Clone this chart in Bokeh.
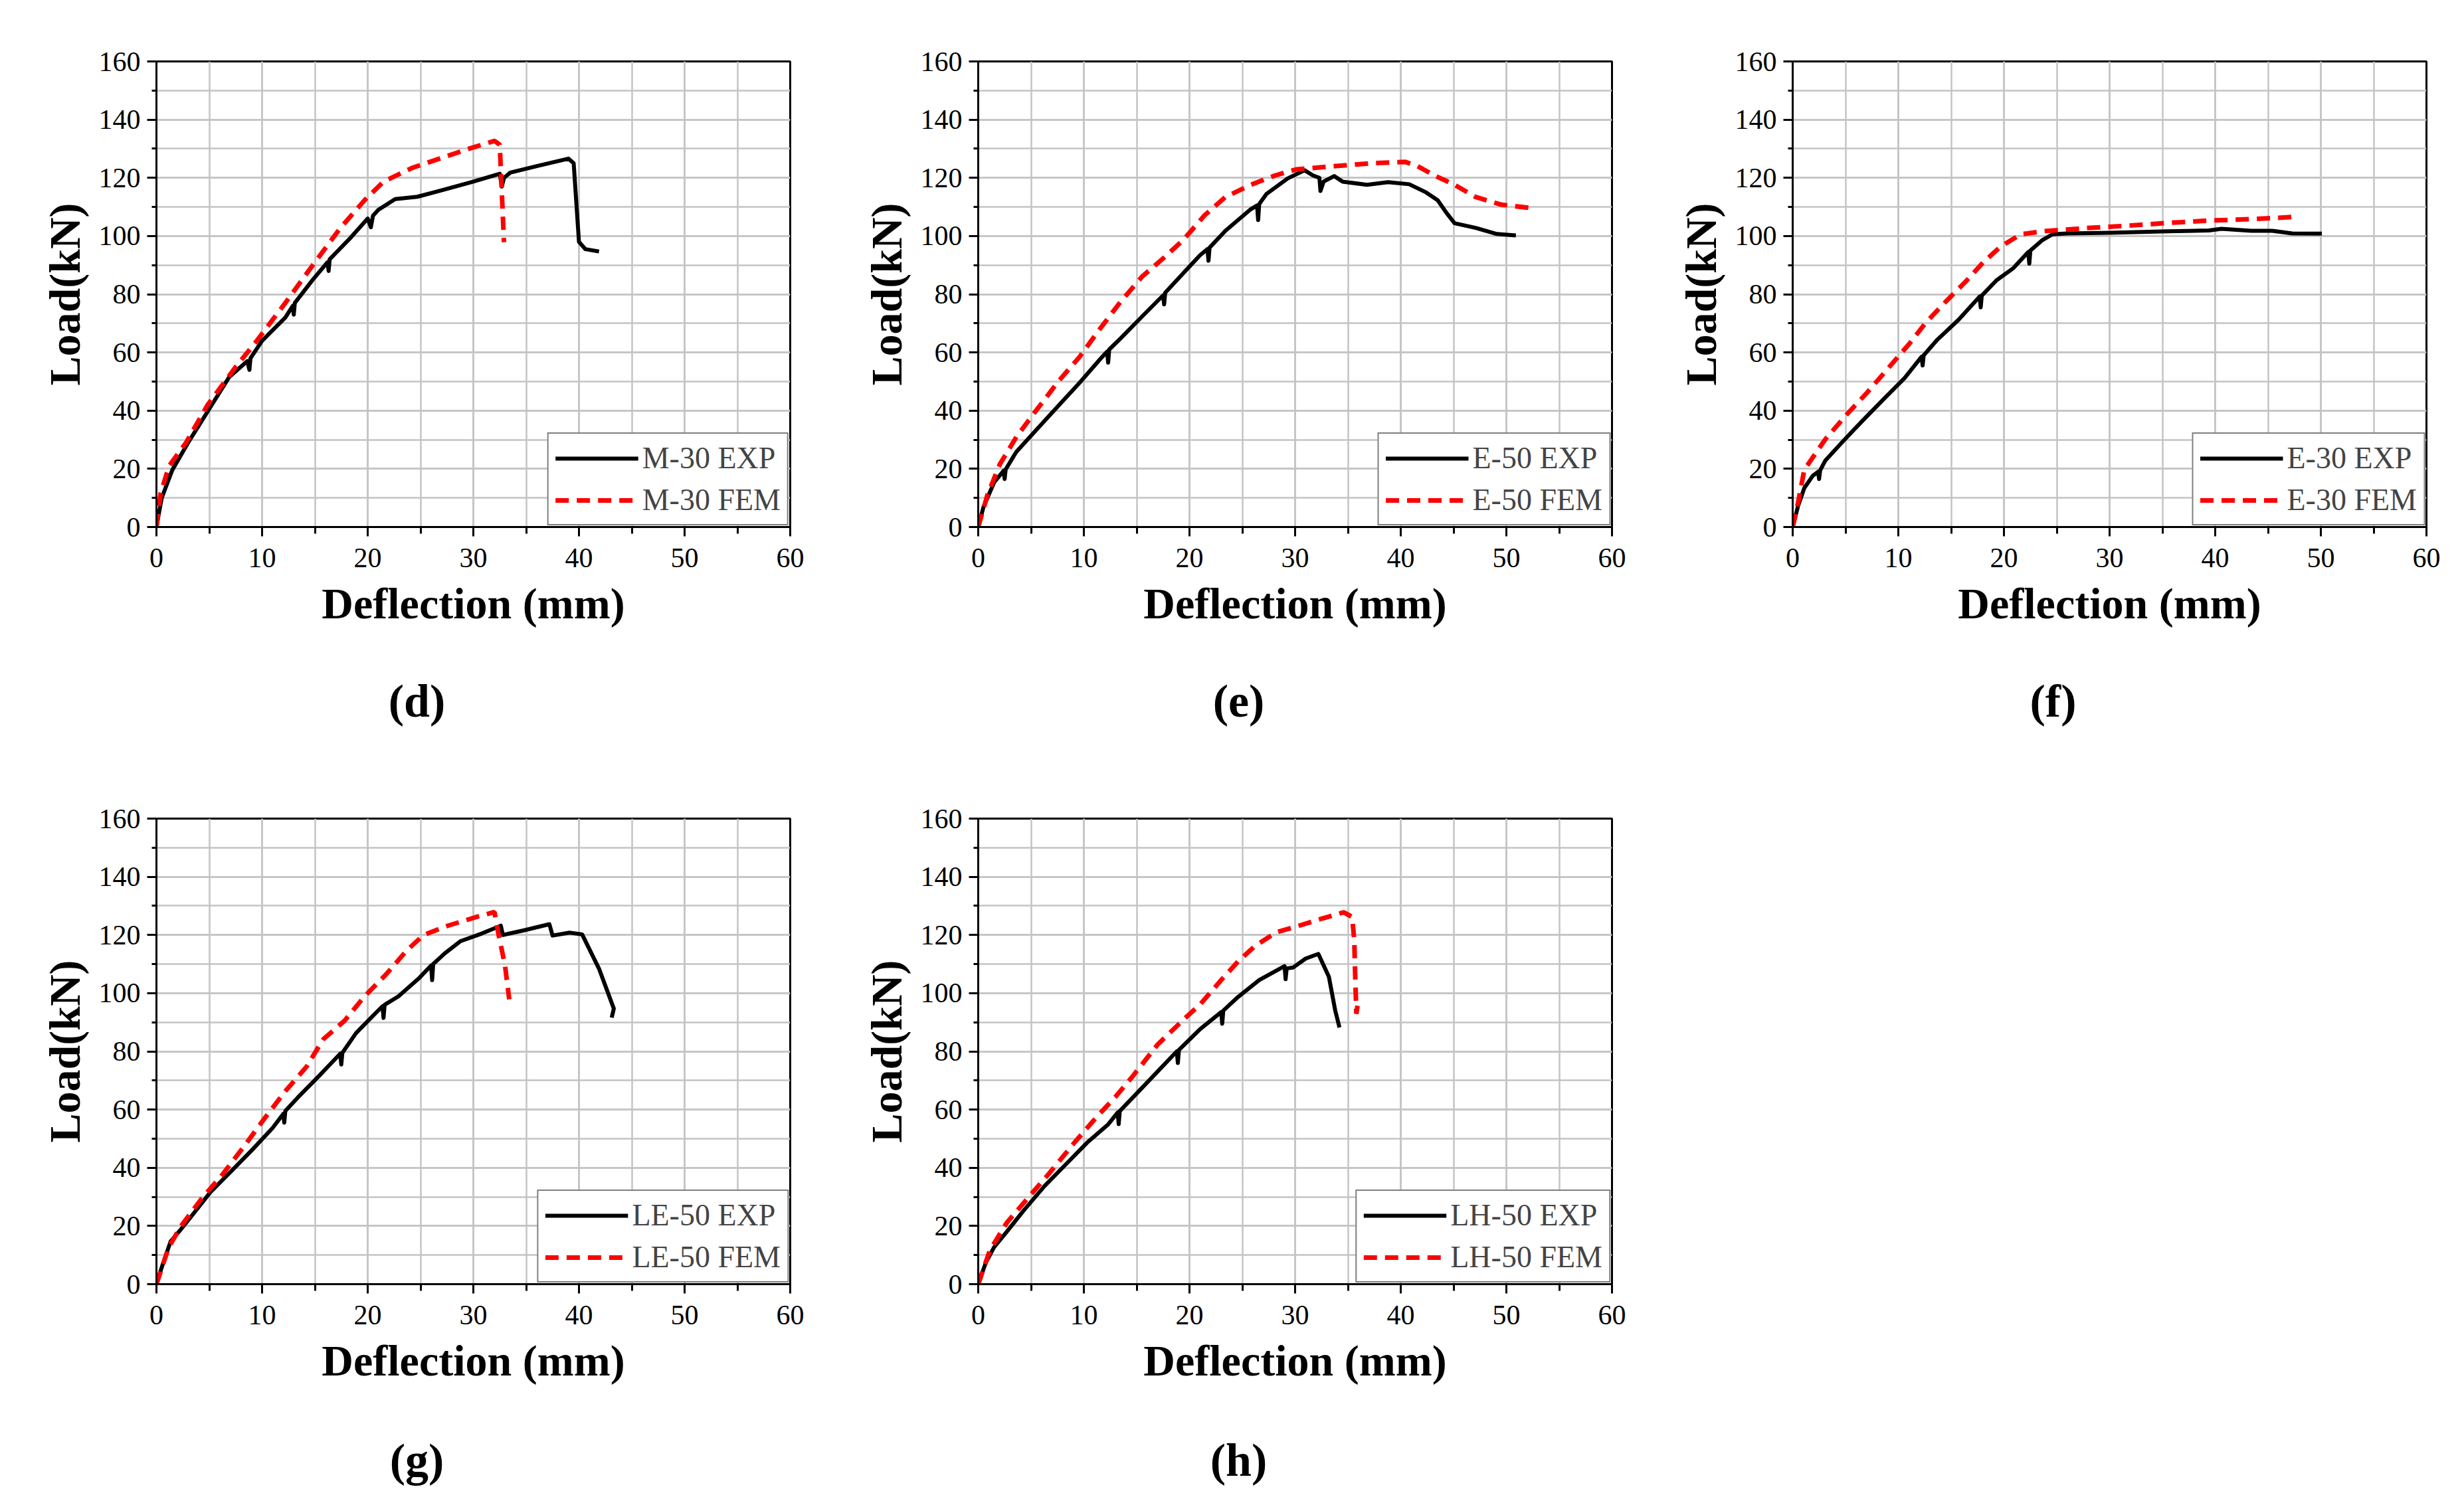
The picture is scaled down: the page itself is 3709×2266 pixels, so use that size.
import numpy as np

from bokeh.plotting import figure
from bokeh.layouts import row, column
from bokeh.models import Range1d, FixedTicker, Legend, LegendItem
from bokeh.core.properties import value
from bokeh.embed import file_html
from bokeh.resources import INLINE

# -----------------------------
# DATA
# -----------------------------
m30_exp_x = [0, 0.5, 1.5, 3.0, 4.9, 6.9, 8.6, 8.8, 8.9, 10.0, 12.2, 12.9, 13.0, 13.1, 14.8, 16.2, 16.3, 16.4,
             18.4, 20.0, 20.3, 20.5, 21.0, 22.6, 24.7, 26.8, 29.9, 32.5, 32.7, 32.9, 33.5, 36.2, 39.0, 39.5,
             40.0, 40.6, 41.9]
m30_exp_y = [0, 10, 19.6, 29, 40, 51.6, 57, 54, 58, 64, 72, 76, 73, 77, 85, 91, 88, 92,
             99.5, 106, 103, 107, 109, 112.7, 113.5, 115.5, 118.6, 121.4, 117, 120, 121.8, 124.2, 126.6, 125,
             98, 95.5, 94.7]
m30_fem_x = [0, 0.4, 1.2, 2.8, 4.85, 7.5, 9.5, 12.2, 14.8, 17.4, 19.7, 21.5, 24.2, 26.8, 29.4, 32.0, 32.5, 32.9]
m30_fem_y = [0, 11.7, 21, 29, 42, 55, 64, 77, 90, 102.7, 112.3, 118.7, 123.4, 126.6, 129.8, 132.7, 131.4, 97.9]

e50_exp_x = [0, 0.5, 1.5, 2.4, 2.5, 2.6, 3.6, 5.6, 7.6, 9.6, 11.5, 12.2, 12.3, 12.4, 13.5, 15.5, 17.5, 17.6,
             17.7, 19.1, 21.0, 21.7, 21.8, 21.9, 23.4, 25.8, 26.4, 26.5, 26.6, 27.3, 29.3, 30.9, 31.7, 32.3,
             32.4, 32.7, 33.7, 34.5, 36.8, 38.8, 40.8, 42.4, 43.5, 44.3, 45.1, 47.1, 49.1, 50.9]
e50_exp_y = [0, 6.9, 15.3, 19.3, 16.5, 19.8, 25.8, 33.8, 41.7, 49.6, 57.5, 60.3, 56.5, 61, 64.9, 72.3, 79.6, 76.5,
             80.5, 86, 93.4, 95.5, 91.5, 96, 101.8, 109.2, 110.5, 105.5, 111, 114.5, 119.8, 122.6, 120.8, 120,
             115.5, 118.7, 120.6, 118.7, 117.6, 118.5, 117.8, 115, 112.3, 108.1, 104.4, 102.8, 100.7, 100.2]
e50_fem_x = [0, 0.87, 2.05, 3.64, 5.6, 7.6, 9.6, 11.5, 13.5, 15.5, 17.5, 19.4, 21.4, 23.4, 25.8, 28.1, 30.1,
             33.3, 37.2, 40.4, 41.6, 43.2, 45.1, 47.1, 49.5, 52.1]
e50_fem_y = [0, 11, 21.6, 31.1, 40.6, 50.1, 58.5, 68, 77.5, 86, 92.3, 98.6, 107, 113.4, 117.6, 120.8, 122.9,
             123.9, 125, 125.5, 124, 120.8, 117.6, 113.4, 110.8, 109.7]

e30_exp_x = [0, 0.5, 1.1, 1.9, 2.4, 2.5, 2.6, 3.1, 4.7, 6.6, 8.6, 10.6, 12.2, 12.3, 12.4, 13.7, 15.7, 17.7,
             17.8, 17.9, 19.3, 20.9, 22.3, 22.4, 22.5, 23.6, 24.6, 26.0, 30.0, 35.5, 39.4, 40.6, 43.4, 45.4,
             47.3, 50.1]
e30_exp_y = [0, 7.1, 13.4, 17.6, 19.0, 16.5, 19.5, 22.9, 29.2, 36.5, 43.9, 51.2, 58.5, 55.5, 59, 64.4, 71.2, 79.2,
             75.5, 79.5, 84.8, 89, 94.5, 90.5, 95, 98.5, 100.6, 100.9, 101.1, 101.6, 101.9, 102.5, 101.8, 101.8,
             100.9, 100.8]
e30_fem_x = [0, 0.5, 1.1, 1.9, 3.1, 5.1, 7.0, 9.0, 11.0, 12.6, 14.5, 16.5, 18.1, 19.7, 21.6, 23.6, 27.6, 31.5,
             35.5, 39.4, 43.4, 47.7]
e30_fem_y = [0, 8.2, 19.7, 23.9, 30.2, 38.6, 46, 54.4, 62.8, 70.2, 77.5, 84.8, 91.2, 96.4, 100.6, 101.6, 102.7,
             103.5, 104.5, 105.3, 105.8, 106.6]

le50_exp_x = [0, 0.55, 1.34, 2.33, 3.5, 5.1, 7.1, 9.1, 11.0, 12.0, 12.1, 12.2, 13.4, 15.4, 17.4, 17.5, 17.6, 18.9,
              20.9, 21.4, 21.5, 21.6, 22.9, 24.9, 26.0, 26.1, 26.2, 27.3, 28.8, 30.8, 32.6, 32.8, 34.8, 37.2,
              37.5, 39.1, 40.3, 41.9, 43.3, 43.1]
le50_exp_y = [0, 6.3, 14.7, 18.9, 24.2, 31.6, 38.9, 46.3, 53.7, 58.5, 55.5, 59.5, 64.2, 71.6, 79.2, 75.5, 79.5, 86.3,
              93.7, 95.5, 91.5, 96, 98.9, 105.3, 109.5, 104.5, 110, 113.7, 117.9, 120.5, 123.2, 120, 121.6, 123.7,
              119.8, 120.8, 120.2, 108.4, 94.7, 91.6]
le50_fem_x = [0, 1.15, 2.33, 4.3, 6.3, 8.3, 10.2, 12.2, 14.2, 15.8, 17.8, 19.7, 21.7, 23.7, 25.3, 27.6, 30.4,
              32.0, 32.4, 33.0, 33.4]
le50_fem_y = [0, 12.6, 20, 29.5, 37.9, 47.4, 56.8, 66.3, 74.7, 84.2, 90.5, 98.9, 106.3, 114.7, 120, 123.2, 126.3,
              127.9, 120, 109.5, 97.9]

lh50_exp_x = [0, 0.72, 1.5, 2.7, 4.3, 6.3, 8.3, 10.3, 12.3, 13.2, 13.3, 13.4, 14.7, 16.65, 18.8, 18.9, 19.0, 21.0,
              23.0, 23.1, 23.2, 24.6, 26.6, 29.0, 29.1, 29.2, 29.8, 31.0, 32.2, 33.2, 33.8, 34.2]
lh50_exp_y = [0, 7.4, 12.7, 18, 25.3, 33.8, 41.2, 48.6, 54.9, 59, 55, 59.5, 64.4, 71.8, 80, 76, 80.5, 87.6,
              93.5, 89.5, 94, 98.7, 104.5, 109.3, 104.8, 108.5, 108.8, 111.9, 113.5, 105.6, 94, 88.2]
lh50_fem_x = [0, 1.1, 2.7, 4.7, 6.7, 9.1, 11.1, 13.0, 14.7, 17.0, 19.4, 21.0, 23.0, 24.6, 26.2, 28.2, 30.2,
              32.6, 34.6, 35.4, 35.6, 35.7, 35.8, 36.0]
lh50_fem_y = [0, 11.6, 21.1, 29.6, 38, 48.6, 57, 64.4, 71.8, 82.4, 90.8, 96.1, 104.5, 110.9, 116.2, 120.9, 123,
              125.7, 127.8, 126.2, 118.2, 104.5, 92.9, 98.2]

x_ticks = [0, 10, 20, 30, 40, 50, 60]
x_minor = [0, 5, 10, 15, 20, 25, 30, 35, 40, 45, 50, 55, 60]
y_ticks = [0, 20, 40, 60, 80, 100, 120, 140, 160]
y_minor = [0, 10, 20, 30, 40, 50, 60, 70, 80, 90, 100, 110, 120, 130, 140, 150, 160]

# -----------------------------
# STYLE
# -----------------------------
FONT = "Liberation Serif"
GRID = "#c4c4c4"
AXIS_BOTTOM = 200   # espacio bajo el marco para ticks y título del eje


def panel(name, exp_x, exp_y, fem_x, fem_y, width, left=230):
    p = figure(width=width, height=92 + 701 + AXIS_BOTTOM, x_range=Range1d(0, 60), y_range=Range1d(0, 160),
               output_backend="svg", toolbar_location=None,
               min_border_left=left, min_border_right=width - left - 954,
               min_border_top=92, min_border_bottom=AXIS_BOTTOM)

    r_exp = p.line(exp_x, exp_y, color="black", line_width=6, line_join="round")
    r_fem = p.line(fem_x, fem_y, color="#ff0000", line_width=7, line_dash="20 12")

    # ejes
    p.xaxis.ticker = FixedTicker(ticks=x_ticks, minor_ticks=x_minor)
    p.yaxis.ticker = FixedTicker(ticks=y_ticks, minor_ticks=y_minor)
    for ax in (p.xaxis, p.yaxis):
        ax.axis_line_color = "black"
        ax.axis_line_width = 3
        ax.major_tick_line_width = 3
        ax.minor_tick_line_width = 3
        ax.major_tick_in = 0
        ax.minor_tick_in = 0
        ax.major_tick_out = 14
        ax.major_label_text_font = FONT
        ax.major_label_text_font_size = "42px"
        ax.major_label_text_color = "black"
        ax.axis_label_text_font = FONT
        ax.axis_label_text_font_size = "66px"
        ax.axis_label_text_font_style = "bold"
        ax.axis_label_text_color = "black"
    p.xaxis.minor_tick_out = 10
    p.yaxis.minor_tick_out = 7
    p.xaxis.major_label_standoff = 18
    p.yaxis.major_label_standoff = 10
    p.xaxis.axis_label = "Deflection (mm)"
    p.yaxis.axis_label = "Load(kN)"
    p.xaxis.axis_label_standoff = 15
    p.yaxis.axis_label_standoff = 12

    # rejilla
    for g in (p.xgrid, p.ygrid):
        g.grid_line_color = GRID
        g.grid_line_width = 2.5
        g.minor_grid_line_color = GRID
        g.minor_grid_line_width = 2.5
    p.outline_line_color = "black"
    p.outline_line_width = 3

    # leyenda
    legend = Legend(items=[LegendItem(label=name + " EXP", renderers=[r_exp]),
                           LegendItem(label=name + " FEM", renderers=[r_fem])],
                    location="bottom_right", margin=2, padding=10, spacing=10,
                    glyph_width=125, glyph_height=50, label_height=50, label_standoff=6,
                    label_text_font=FONT, label_text_font_size="46px",
                    border_line_color="black", border_line_width=2,
                    background_fill_color="white", background_fill_alpha=1.0)
    p.add_layout(legend)
    return p


def caption(text, width, height, center_y, left=230):
    # franja con el rótulo (d), (e)... bajo cada gráfica
    c = figure(width=width, height=height, x_range=Range1d(0, width), y_range=Range1d(height, 0),
               output_backend="svg", toolbar_location=None, x_axis_type=None, y_axis_type=None,
               min_border=0)
    c.outline_line_color = None
    c.xgrid.visible = False
    c.ygrid.visible = False
    c.text(x=[left + 392], y=[center_y], text=[text], text_align="center", text_baseline="middle",
           text_font=value(FONT), text_font_size="70px", text_font_style="bold", text_color="black")
    return c


d = panel("M-30", m30_exp_x, m30_exp_y, m30_fem_x, m30_fem_y, 1242, left=235)
e = panel("E-50", e50_exp_x, e50_exp_y, e50_fem_x, e50_fem_y, 1226)
f = panel("E-30", e30_exp_x, e30_exp_y, e30_fem_x, e30_fem_y, 1224)
g = panel("LE-50", le50_exp_x, le50_exp_y, le50_fem_x, le50_fem_y, 1242, left=235)
h = panel("LH-50", lh50_exp_x, lh50_exp_y, lh50_fem_x, lh50_fem_y, 1226)

cap1 = 1140 - (92 + 701 + AXIS_BOTTOM)
cap2 = 2250 - 1140 - (92 + 701 + AXIS_BOTTOM)
row1_caps = row(caption("(d)", 1242, cap1, 62, left=235), caption("(e)", 1226, cap1, 62),
                caption("(f)", 1224, cap1, 62))
row2_caps = row(caption("(g)", 1242, cap2, 65, left=235), caption("(h)", 1226, cap2, 65))

layout = column(row(d, e, f), row1_caps, row(g, h), row2_caps)

open("out.html", "w").write(file_html(layout, INLINE))
